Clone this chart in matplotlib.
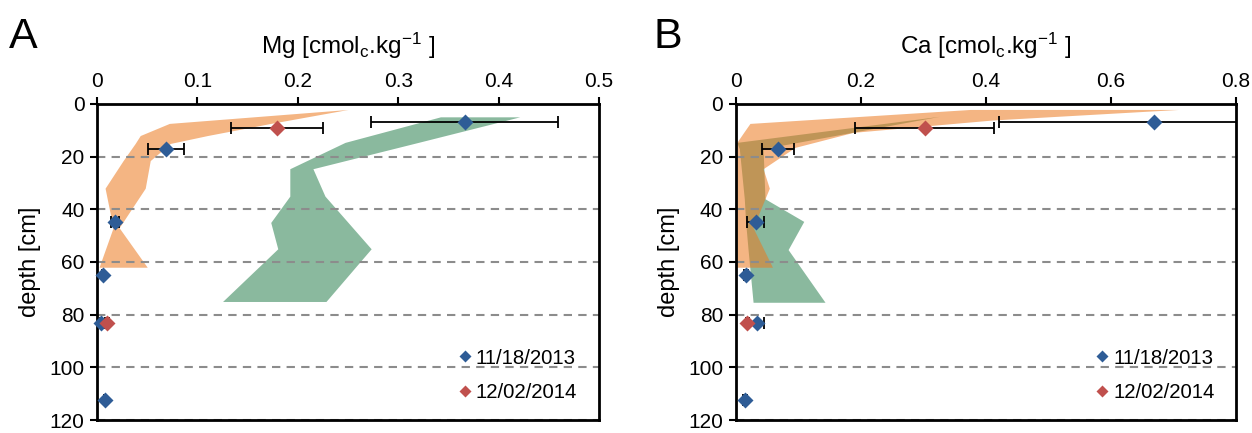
import matplotlib
matplotlib.use("Agg")
import matplotlib.pyplot as plt
from matplotlib.lines import Line2D

plt.rcParams['font.family'] = ['Liberation Sans', 'DejaVu Sans']
plt.rcParams['mathtext.default'] = 'regular'

# sampling depths [cm]
depth_2013 = [7, 17, 45, 65, 83, 112.5]
depth_2014 = [9, 83]

# measured Mg (mean and std) [cmolc/kg]
mg_2013 = [0.366, 0.069, 0.018, 0.006, 0.004, 0.008]
mg_2013_err = [0.093, 0.018, 0.004, 0.001, 0.001, 0.001]
mg_2014 = [0.179, 0.010]
mg_2014_err = [0.046, 0.002]

# measured Ca (mean and std) [cmolc/kg]
ca_2013 = [0.668, 0.068, 0.032, 0.017, 0.034, 0.015]
ca_2013_err = [0.247, 0.025, 0.013, 0.003, 0.012, 0.003]
ca_2014 = [0.302, 0.019]
ca_2014_err = [0.111, 0.003]

# simulated ranges (min / max envelope over depth)
mg_sim13_depth = [4.9, 14.6, 24.6, 35, 45, 55, 75]
mg_sim13_lo = [0.342, 0.247, 0.192, 0.192, 0.173, 0.180, 0.125]
mg_sim13_hi = [0.421, 0.320, 0.215, 0.227, 0.250, 0.273, 0.228]

mg_sim14_depth = [2.1, 7.4, 12, 15, 21.5, 32, 47, 62]
mg_sim14_lo = [0.250, 0.072, 0.043, 0.038, 0.026, 0.008, 0.016, 0.002]
mg_sim14_hi = [0.250, 0.173, 0.110, 0.073, 0.053, 0.048, 0.022, 0.050]

ca_sim13_depth = [4.7, 14.6, 17, 36, 44.6, 55.3, 75.3]
ca_sim13_lo = [0.326, 0.002, 0.006, 0.014, 0.016, 0.020, 0.028]
ca_sim13_hi = [0.326, 0.099, 0.044, 0.047, 0.109, 0.084, 0.143]

ca_sim14_depth = [2.1, 6.1, 7.4, 10.8, 14.6, 16.5, 24.6, 32, 36, 47, 62]
ca_sim14_lo = [0.375, 0.109, 0.023, 0.013, 0.002, 0.002, 0.002, 0.002, 0.002, 0.002, 0.002]
ca_sim14_hi = [0.708, 0.411, 0.349, 0.188, 0.126, 0.095, 0.044, 0.054, 0.047, 0.028, 0.059]

BLUE = '#2E5C96'
RED = '#C0504D'
GREEN = '#0A6E35'
ORANGE = '#EB781E'


def draw_panel(ax, element, xmax, xstep, sim13, sim14, obs13, obs14):
    ax.fill_betweenx(sim13[0], sim13[1], sim13[2], color=GREEN, alpha=0.48,
                     lw=0, zorder=1)
    ax.fill_betweenx(sim14[0], sim14[1], sim14[2], color=ORANGE, alpha=0.55,
                     lw=0, zorder=1)

    for (x, err, d), col in ((obs13, BLUE), (obs14, RED)):
        ax.errorbar(x, d, xerr=err, fmt='none', ecolor='black',
                    elinewidth=1.3, capsize=4, capthick=1.3, zorder=2)
        ax.plot(x, d, 'D', color=col, ms=8.5, mec='none', zorder=3,
                clip_on=False)

    n = int(round(xmax / xstep))
    ax.set_xlim(0, xmax)
    ax.set_ylim(120, 0)
    ax.set_xticks([i * xstep for i in range(n + 1)])
    ax.set_xticklabels(['0'] + ['%g' % (i * xstep) for i in range(1, n + 1)])
    ax.set_yticks(range(0, 121, 20))
    ax.xaxis.tick_top()
    ax.xaxis.set_label_position('top')
    ax.tick_params(axis='both', direction='out', length=5, width=1.5,
                   labelsize=15, pad=4)
    ax.tick_params(axis='y', right=False)
    ax.tick_params(axis='x', bottom=False)
    for sp in ax.spines.values():
        sp.set_linewidth(2)

    ax.yaxis.grid(True, linestyle=(0, (4, 3)), color='#8c8c8c', lw=1.5)
    ax.set_xlabel(element + r' [cmol$_c$.kg$^{-1}$ ]', fontsize=17.5, labelpad=13)
    ax.set_ylabel('depth [cm]', fontsize=17, labelpad=6)

    handles = [Line2D([], [], marker='D', ls='none', color=BLUE, mec='none', ms=6),
               Line2D([], [], marker='D', ls='none', color=RED, mec='none', ms=6)]
    ax.legend(handles, ['11/18/2013', '12/02/2014'], loc='lower right',
              bbox_to_anchor=(0.977, 0.025), frameon=False, fontsize=14.7,
              handlelength=0.7, handletextpad=0.2, labelspacing=0.75,
              borderpad=0)


fig = plt.figure(figsize=(12.52, 4.33), dpi=100)
ax_a = fig.add_axes([0.0775, 0.030, 0.401, 0.730])
ax_b = fig.add_axes([0.5875, 0.030, 0.3998, 0.730])

draw_panel(ax_a, 'Mg', 0.5, 0.1,
           (mg_sim13_depth, mg_sim13_lo, mg_sim13_hi),
           (mg_sim14_depth, mg_sim14_lo, mg_sim14_hi),
           (mg_2013, mg_2013_err, depth_2013),
           (mg_2014, mg_2014_err, depth_2014))
draw_panel(ax_b, 'Ca', 0.8, 0.2,
           (ca_sim13_depth, ca_sim13_lo, ca_sim13_hi),
           (ca_sim14_depth, ca_sim14_lo, ca_sim14_hi),
           (ca_2013, ca_2013_err, depth_2013),
           (ca_2014, ca_2014_err, depth_2014))

fig.text(0.007, 0.915, 'A', fontsize=31, va='center')
fig.text(0.522, 0.915, 'B', fontsize=31, va='center')

fig.savefig('out.png', dpi=100)
